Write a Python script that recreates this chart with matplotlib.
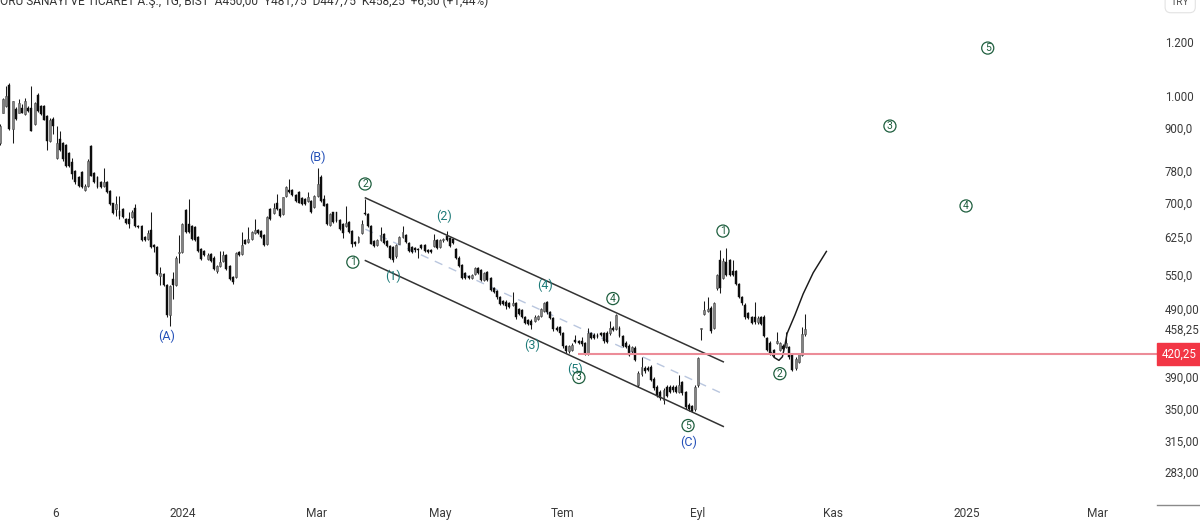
import numpy as np
import matplotlib
matplotlib.use("Agg")
import matplotlib.pyplot as plt
from matplotlib.ticker import NullLocator

plt.rcParams['font.family'] = ['Roboto', 'DejaVu Sans']

# daily OHLC
opens = [
    855,946,968,1040,896,959,946,962,941,962,
    962,910,1006,968,968,936,861,927,813,866,
    856,850,827,801,779,762,775,730,740,847,
    772,762,749,740,750,728,698,685,681,685,
    663,662,666,687,647,647,624,620,638,606,
    603,547,551,530,479,541,530,591,593,683,
    651,647,644,624,599,595,579,589,582,557,
    566,576,586,566,545,545,593,589,618,613,
    619,631,638,636,627,608,685,676,700,685,
    673,715,730,730,719,725,710,708,704,704,
    690,716,762,708,696,650,677,677,660,651,
    647,656,636,613,613,631,675,674,647,615,
    606,617,630,615,605,603,584,610,624,628,
    611,603,601,599,607,606,597,596,605,617,
    603,617,625,621,619,599,582,568,552,547,
    543,551,562,558,539,555,543,525,520,510,
    503,502,499,496,499,489,488,476,472,471,
    471,474,478,486,501,484,475,460,461,451,
    432,425,427,441,439,439,436,421,451,449,
    449,451,451,452,451,460,458,460,447,437,
    433,425,430,379,393,402,402,403,387,377,
    371,361,377,377,377,377,371,383,370,355,
    353,350,379,458,482,486,492,460,526,577,
    543,574,577,557,557,532,510,497,483,476,
    476,468,476,477,444,437,426,437,427,433,
    431,431,421,401,410,420,450,
]
highs = [
    910,995,1034,1046,984,965,992,975,995,968,
    1034,980,1010,972,972,940,930,932,904,889,
    858,852,830,813,782,765,778,745,810,848,
    775,765,752,787,752,730,700,715,715,688,
    665,677,682,696,649,649,626,638,677,608,
    605,563,553,532,531,554,584,627,653,685,
    709,649,646,626,601,597,590,591,584,568,
    595,595,588,568,547,593,595,634,620,644,
    636,663,640,638,629,668,687,700,721,687,
    714,740,757,732,721,727,712,710,724,706,
    718,785,768,719,698,675,679,679,662,653,
    693,658,638,615,626,660,708,676,650,617,
    619,644,632,617,607,605,608,626,646,630,
    613,605,603,601,609,608,599,598,630,619,
    619,621,637,623,621,601,584,570,554,549,
    551,563,564,560,554,557,545,527,522,512,
    505,504,501,518,501,491,490,478,474,473,
    479,480,491,502,503,486,477,462,463,453,
    434,434,436,449,441,446,438,460,453,451,
    451,453,453,454,471,462,482,462,449,439,
    435,433,432,397,417,404,404,405,389,379,
    373,375,379,379,379,379,392,385,372,357,
    355,379,417,460,503,510,494,501,551,597,
    581,600,579,577,559,534,512,499,485,478,
    502,478,478,479,446,439,428,453,438,435,
    453,433,423,416,423,461,481.75,
]
lows = [
    850,944,965,894,855,925,944,944,938,949,
    889,908,949,938,923,836,858,880,810,833,
    806,790,790,757,746,738,736,727,738,764,
    747,736,736,738,722,694,673,669,662,664,
    651,642,664,645,642,615,615,618,601,592,
    549,530,529,477,462,507,528,572,591,632,
    632,617,615,592,577,584,577,574,558,553,
    564,574,558,540,533,543,584,587,608,611,
    617,629,629,622,604,606,660,674,683,667,
    671,713,722,715,702,698,694,694,702,676,
    688,714,702,691,649,648,653,656,638,622,
    645,632,603,605,611,629,672,645,608,602,
    604,615,609,603,579,574,582,608,622,611,
    593,590,593,581,598,593,590,590,603,599,
    601,614,615,603,609,580,564,541,541,541,
    541,549,550,537,537,537,520,517,507,496,
    496,490,491,494,474,480,475,465,464,458,
    469,472,476,484,482,473,455,454,449,430,
    423,423,425,436,435,433,419,419,442,442,
    444,447,437,436,449,454,456,445,431,429,
    418,423,411,377,391,395,397,384,373,364,
    361,356,364,369,371,369,369,367,350,348,
    346,348,377,441,480,484,452,458,521,516,
    541,547,547,547,530,508,497,474,473,465,
    466,466,464,445,425,419,417,435,425,426,
    429,414,397,399,408,418,447.75,
]
closes = [
    904,990,1001,896,984,927,978,946,984,951,
    889,978,951,941,925,861,925,904,855,836,
    809,792,792,770,749,740,738,740,805,766,
    749,738,738,749,724,696,675,696,669,666,
    653,651,679,647,644,617,617,631,603,603,
    551,553,531,479,529,530,582,593,651,634,
    634,619,617,594,579,586,586,576,560,565,
    574,586,560,542,536,591,586,606,610,620,
    634,638,631,624,606,666,662,687,685,669,
    712,738,724,717,704,700,696,696,712,678,
    716,746,704,693,651,673,655,658,640,631,
    653,634,610,610,624,651,674,647,610,604,
    617,628,611,605,581,578,606,624,634,613,
    595,592,597,597,600,595,592,592,617,601,
    617,619,617,605,611,582,566,543,543,543,
    549,561,552,539,552,539,522,519,509,498,
    498,494,493,500,476,482,477,467,466,464,
    477,478,489,500,484,475,457,456,451,432,
    425,432,434,438,437,435,421,452,444,444,
    446,449,439,438,460,456,480,447,433,431,
    420,431,413,395,403,397,399,386,375,366,
    363,373,366,371,373,371,379,369,352,350,
    348,377,415,460,488,489,454,499,549,525,
    576,549,549,549,532,510,499,476,475,467,
    468,475,466,447,427,421,419,439,436,428,
    437,416,399,414,421,450,458.25,
]

# axis labels
price_ticks = [1200, 1000, 900, 780, 700, 625, 550, 490, 458.25, 430, 390, 350, 315, 283]
price_labels = ["1.200", "1.000", "900,0", "780,0", "700,0", "625,0", "550,0",
                "490,00", "458,25", "430,00", "390,00", "350,00", "315,00", "283,00"]
date_ticks = [17.8, 58.2, 100.8, 139.9, 179, 221.9, 264.9, 307.5, 349.1]
date_labels = ["6", "2024", "Mar", "May", "Tem", "Eyl", "Kas", "2025", "Mar"]

# elliott wave labels: text, bar, price
blue_labels = ["(A)", "(B)", "(C)"]
blue_bars = [53.1, 100.8, 219.1]
blue_prices = [447, 816, 313]
teal_labels = ["(1)", "(2)", "(3)", "(4)", "(5)"]
teal_bars = [125, 141.2, 169.2, 173.3, 182.8]
teal_prices = [547, 669, 434, 530, 400]
circle_labels = ["2", "1", "3", "4", "5", "1", "2", "3", "4", "5"]
circle_bars = [116.1, 112.2, 184.1, 194.9, 218.8, 229.9, 248, 283, 307.2, 314.1]
circle_prices = [745, 573, 389, 507, 331, 636, 394, 905, 692, 1176]

# channel
channel_bars = [116.2, 230]
upper_prices = [711, 410]
lower_prices = [576, 330]
middle_prices = [640, 368]

# projected path after wave 2
path_bars = [245, 246.2, 247.7, 248.8, 249.5, 250.3, 252.8, 255.4, 258.6, 262.8]
path_prices = [424, 416, 412, 417, 431, 451, 480, 515, 553, 594]

level = 420.25
level_start = 183.8

fig = plt.figure(figsize=(12, 5.24), dpi=100)
ax = fig.add_axes([0, 0, 1, 1])
ax.set_yscale("log")
ax.set_xlim(0, 381.6)
ax.set_ylim(237.8, 1382)

x = np.arange(len(opens))
o = np.array(opens)
h = np.array(highs)
l = np.array(lows)
c = np.array(closes)
up = c >= o

ax.vlines(x, l, h, color="#1a1a1a", lw=0.75, zorder=3)
ax.bar(x[up], (c - o)[up], bottom=o[up], width=0.62, color="#828282",
       edgecolor="#4d4d4d", lw=0.4, zorder=4)
ax.bar(x[~up], (o - c)[~up], bottom=c[~up], width=0.62, color="#0d0d0d",
       edgecolor="#0d0d0d", lw=0.3, zorder=4)

# channel lines
ax.plot(channel_bars, upper_prices, color="#333333", lw=1.1, zorder=5)
ax.plot(channel_bars, lower_prices, color="#333333", lw=1.1, zorder=5)
ax.plot(channel_bars, middle_prices, color="#b9c6de", lw=1.0, ls=(0, (6, 5)), zorder=2)

ax.plot(path_bars, path_prices, color="#1a1a1a", lw=1.05, zorder=5)

# support level with price tag
ax.hlines(level, level_start, 368.2, color="#ec8c98", lw=1.5, zorder=5)
ax.text(0.9825, 1 - 354 / 524, "420,25", transform=ax.transAxes, color="white",
        fontsize=8.3, ha="center", va="center", zorder=8,
        bbox=dict(boxstyle="square,pad=0.42", fc="#f23645", ec="#f23645"))

for t, b, p in zip(blue_labels, blue_bars, blue_prices):
    ax.text(b, p, t, color="#2450b8", fontsize=9, ha="center", va="center", zorder=6)
for t, b, p in zip(teal_labels, teal_bars, teal_prices):
    ax.text(b, p, t, color="#1c7a78", fontsize=9, ha="center", va="center", zorder=6)
for t, b, p in zip(circle_labels, circle_bars, circle_prices):
    ax.text(b, p, t, color="#1f5f3f", fontsize=7.5, ha="center", va="center", zorder=6,
            bbox=dict(boxstyle="circle,pad=0.1", fc="none", ec="#1f5f3f", lw=0.9))

# axes
ax.yaxis.tick_right()
ax.yaxis.set_minor_locator(NullLocator())
ax.set_yticks(price_ticks, price_labels)
ax.set_xticks(date_ticks, date_labels)
ax.tick_params(axis="y", length=0, pad=-25.5, labelsize=8.3, labelcolor="#3a3a3a")
ax.tick_params(axis="x", length=0, pad=-12.5, labelsize=8.6, labelcolor="#3a3a3a")
ax.minorticks_off()
for s in ax.spines.values():
    s.set_visible(False)

ax.plot([0.964, 1], [1 - 505 / 524] * 2, transform=ax.transAxes, color="#8a8a8a", lw=1.0)

# clipped legend line and currency button
ax.text(0, 1 - 1 / 524, "ORU SANAYİ VE TİCARET A.Ş., 1G, BIST  A450,00  Y481,75  D447,75  K458,25  +6,50 (+1,44%)",
        transform=ax.transAxes, color="#333333", fontsize=8.6, ha="left", va="center")
ax.text(0.9835, 1 - 2 / 524, "TRY", transform=ax.transAxes, color="#555555", fontsize=7.5,
        ha="center", va="center",
        bbox=dict(boxstyle="round,pad=0.55", fc="white", ec="#e3e3e3", lw=0.8))

fig.savefig("out.png", dpi=100)
